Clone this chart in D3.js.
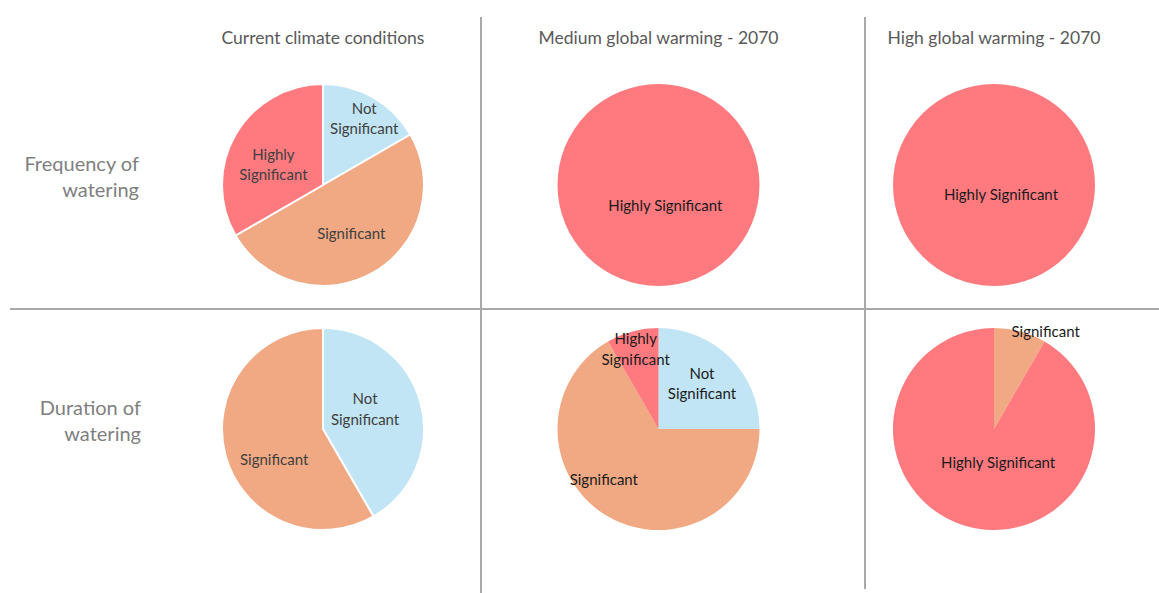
<!DOCTYPE html>
<html>
<head>
<meta charset="utf-8">
<script src="https://cdn.jsdelivr.net/npm/d3@7"></script>
<style>
  html, body { margin: 0; padding: 0; background: #ffffff; }
  svg { display: block; }
</style>
</head>
<body>
<svg id="chart" width="1159" height="593"></svg>
<script>
// Response categories, in clockwise order from 12 o'clock
const categories = ["Not Significant", "Significant", "Highly Significant"];
const scenarios = ["Current climate conditions", "Medium global warming - 2070", "High global warming - 2070"];
const metrics = [["Frequency of", "watering"], ["Duration of", "watering"]];

// Share of responses per scenario (Not Significant, Significant, Highly Significant)
const frequencyValues = [[1, 3, 2], [0, 0, 1], [0, 0, 1]];
const durationValues  = [[5, 7, 0], [3, 8, 1], [0, 1, 11]];

// Label placement for each slice: [angle in degrees clockwise from north, distance as fraction of radius]
const frequencyLabelPos = [
  [[32, 0.77], [150, 0.56], [292, 0.53]],
  [null, null, [162, 0.22]],
  [null, null, [145, 0.12]]
];
const durationLabelPos = [
  [[65, 0.46], [238, 0.57], null],
  [[44, 0.62], [227, 0.74], [344, 0.82]],
  [null, [28, 1.09], [173, 0.34]]
];

const colors = d3.scaleOrdinal()
  .domain(categories)
  .range(["#c1e5f5", "#f0a982", "#ff7a7f"]);

const svg = d3.select("#chart");
const font = "Lato, 'Open Sans', sans-serif";

// Layout of the grid
const colX = d3.scalePoint().domain(d3.range(3)).range([323, 994]).padding(0);
const rowY = d3.scalePoint().domain(d3.range(2)).range([185, 429]);
const radius = 101;

// Grid lines
const gridColor = "#a9a9a9";
svg.append("line").attr("x1", 10).attr("x2", 1159).attr("y1", 309).attr("y2", 309)
  .attr("stroke", gridColor).attr("stroke-width", 2);
svg.append("line").attr("x1", 481).attr("x2", 481).attr("y1", 17).attr("y2", 593)
  .attr("stroke", gridColor).attr("stroke-width", 2);
svg.append("line").attr("x1", 865).attr("x2", 865).attr("y1", 17).attr("y2", 589)
  .attr("stroke", gridColor).attr("stroke-width", 2);

// Column titles
svg.selectAll("text.col-title")
  .data(scenarios)
  .join("text")
  .attr("class", "col-title")
  .attr("x", (d, i) => colX(i))
  .attr("y", 44)
  .attr("text-anchor", "middle")
  .attr("font-family", font)
  .attr("font-size", 17.5)
  .attr("fill", "#595959")
  .text(d => d);

// Row labels
const rowLabelX = [139, 141];
metrics.forEach((lines, r) => {
  const t = svg.append("text")
    .attr("text-anchor", "end")
    .attr("font-family", font)
    .attr("font-size", 20)
    .attr("fill", "#7f7f7f");
  lines.forEach((ln, k) => {
    t.append("tspan")
      .attr("x", rowLabelX[r])
      .attr("y", rowY(r) - 14 + k * 26)
      .text(ln);
  });
});

const pie = d3.pie().sort(null).value(d => d.value);
const arc = d3.arc().innerRadius(0).outerRadius(radius);

function drawPie(values, labelPos, col, row) {
  const data = categories.map((c, i) => ({ category: c, value: values[i], pos: labelPos[i] }));
  const g = svg.append("g").attr("transform", `translate(${colX(col)},${rowY(row)})`);
  const arcs = pie(data).filter(d => d.data.value > 0);
  const separated = col === 0;

  g.selectAll("path")
    .data(arcs)
    .join("path")
    .attr("d", arc)
    .attr("fill", d => colors(d.data.category))
    .attr("stroke", separated && arcs.length > 1 ? "#ffffff" : "none")
    .attr("stroke-width", 2);

  const textColor = col === 0 ? "#404040" : "#1b1b1b";
  arcs.forEach(d => {
    const p = d.data.pos;
    if (!p) return;
    const a = p[0] * Math.PI / 180;
    const x = Math.sin(a) * p[1] * radius;
    const y = -Math.cos(a) * p[1] * radius;
    // Two-line labels when the slice is narrow enough to need wrapping
    const wrap = (col === 0 || (col === 1 && row === 1)) && d.data.category !== "Significant";
    const lines = wrap ? (d.data.category === "Not Significant" ? ["Not", "Significant"] : ["Highly", "Significant"]) : [d.data.category];
    const t = g.append("text")
      .attr("text-anchor", "middle")
      .attr("font-family", font)
      .attr("font-size", 15)
      .attr("fill", textColor);
    lines.forEach((ln, k) => {
      t.append("tspan")
        .attr("x", x)
        .attr("y", y + 5 + (k - (lines.length - 1) / 2) * 20.5)
        .text(ln);
    });
  });
}

frequencyValues.forEach((v, c) => drawPie(v, frequencyLabelPos[c], c, 0));
durationValues.forEach((v, c) => drawPie(v, durationLabelPos[c], c, 1));
</script>
</body>
</html>
